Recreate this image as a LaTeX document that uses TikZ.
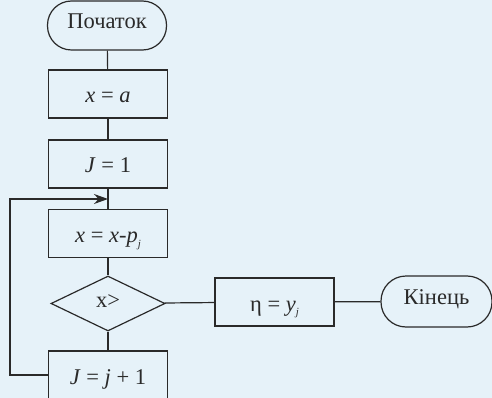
\documentclass[tikz,border=0pt]{standalone}
\usepackage{fontspec}
\setmainfont{Liberation Serif}
\usetikzlibrary{shapes.geometric,arrows.meta}
\definecolor{bgblue}{HTML}{E6F2F9}
\definecolor{ink}{HTML}{2A2A2A}
\newcommand\subj{\raisebox{-0.45ex}{\fontsize{11}{11}\selectfont\itshape j}}
\begin{document}
\begin{tikzpicture}[x=1pt,y=-1pt,
  every node/.style={text=ink,font=\fontsize{22.5}{24}\selectfont},
  proc/.style={draw=ink,line width=1.2pt,rectangle,minimum width=119pt,minimum height=48pt,inner sep=0pt,text height=18pt,text depth=0pt},
  term/.style={draw=ink,line width=1.2pt,rectangle,rounded corners=24pt,minimum height=49pt,inner sep=0pt,text height=11pt,text depth=5pt},
  decis/.style={draw=ink,line width=1.2pt,diamond,aspect=2.07,minimum width=114pt,minimum height=55pt,inner sep=0pt,text height=10pt,text depth=3pt},
  conn/.style={draw=ink,line width=1.2pt}]
\fill[bgblue] (0,0) rectangle (492,398);
\useasboundingbox (0,0) rectangle (492,398);
\node[term,minimum width=119pt] (start) at (107,25.5) {Початок};
\node[proc] (b1) at (108,94) {\textit{x} = \textit{a}};
\node[proc] (b2) at (108,164) {\textit{J} = 1};
\node[proc] (b3) at (108,233.5) {\textit{x} = \textit{x}-\textit{p}\subj};
\node[decis] (dia) at (108,303.5) {x>};
\node[proc] (b4) at (108,375) {\textit{J} = \textit{j} + 1};
\node[proc] (eta) at (274.5,302) {η = \textit{y}\subj};
\node[term,minimum width=111pt,minimum height=51pt,rounded corners=25pt] (fin) at (436.5,301.5) {Кінець};
\coordinate (join) at (108,199);
\coordinate (lb) at (10,375);
\coordinate (lt) at (10,199);
\draw[conn] (start) -- (b1);
\draw[conn] (b1) -- (b2);
\draw[conn] (b2) -- (b3);
\draw[conn] (b3) -- (dia);
\draw[conn] (dia) -- (b4);
\draw[conn] (dia) -- (eta);
\draw[conn] (eta) -- (fin);
\draw[conn,-{Stealth[length=14pt,width=10pt]}] (b4.west) -- (lb) -- (lt) -- (join);
\end{tikzpicture}
\end{document}
